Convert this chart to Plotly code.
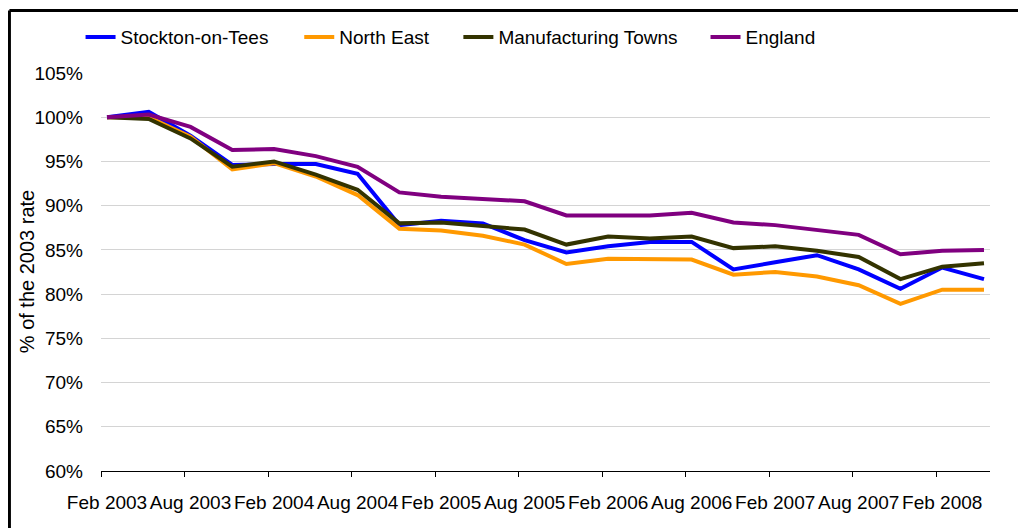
import plotly.graph_objects as go

# Quarterly points, Feb 2003 .. May 2008 (index 0..21)
quarters = list(range(22))
tick_positions = [0, 2, 4, 6, 8, 10, 12, 14, 16, 18, 20]
tick_labels = ['Feb 2003', 'Aug 2003', 'Feb 2004', 'Aug 2004', 'Feb 2005', 'Aug 2005',
               'Feb 2006', 'Aug 2006', 'Feb 2007', 'Aug 2007', 'Feb 2008']

stockton = [100.0, 100.6, 97.9, 94.6, 94.7, 94.7, 93.6, 87.8, 88.3, 88.0, 86.1,
            84.7, 85.4, 85.9, 85.9, 82.8, 83.6, 84.4, 82.8, 80.6, 83.0, 81.7]
north_east = [100.0, 100.0, 97.8, 94.1, 94.8, 93.3, 91.2, 87.4, 87.2, 86.6, 85.6,
              83.4, 84.0, 84.0, 83.9, 82.2, 82.5, 82.0, 81.0, 78.9, 80.5, 80.5]
manufacturing = [100.0, 99.8, 97.6, 94.4, 95.0, 93.5, 91.8, 88.0, 88.1, 87.7, 87.3,
                 85.6, 86.5, 86.3, 86.5, 85.2, 85.4, 84.9, 84.2, 81.7, 83.1, 83.5]
england = [100.0, 100.3, 98.9, 96.3, 96.4, 95.6, 94.4, 91.5, 91.0, 90.8, 90.5,
           88.9, 88.9, 88.9, 89.2, 88.1, 87.8, 87.3, 86.7, 84.5, 84.9, 85.0]

# name, values, colour, legend id, legend x position (paper)
SERIES = [
    ('Stockton-on-Tees', stockton, '#0000FF', 'legend', -0.023),
    ('North East', north_east, '#FF9900', 'legend2', 0.223),
    ('Manufacturing Towns', manufacturing, '#333300', 'legend3', 0.402),
    ('England', england, '#800080', 'legend4', 0.680),
]

FONT = 'Liberation Sans, Arial, sans-serif'
FONT_SIZE = 19

fig = go.Figure()
legends = {}
for name, values, color, legend_id, lx in SERIES:
    fig.add_trace(go.Scatter(
        x=quarters,
        y=values,
        mode='lines',
        name=name,
        legend=legend_id,
        line=dict(color=color, width=4),
    ))
    legends[legend_id] = dict(
        orientation='h',
        x=lx, xanchor='left',
        y=1.09, yanchor='middle',
        font=dict(size=FONT_SIZE),
        bgcolor='rgba(0,0,0,0)',
    )

fig.update_layout(
    width=1026,
    height=528,
    margin=dict(l=93, r=44, t=65, b=65, autoexpand=False),
    paper_bgcolor='white',
    plot_bgcolor='white',
    font=dict(family=FONT, size=FONT_SIZE, color='black'),
    showlegend=True,
    # Outer chart frame (clipped on the right and bottom)
    shapes=[
        dict(type='line', xref='paper', yref='paper',
             x0=-0.103, x1=1.1, y0=1.157, y1=1.157,
             line=dict(color='black', width=3)),
        dict(type='line', xref='paper', yref='paper',
             x0=-0.103, x1=-0.103, y0=1.157, y1=-0.2,
             line=dict(color='black', width=3)),
    ],
    annotations=[
        dict(text='% of the 2003 rate', xref='paper', yref='paper',
             x=-0.083, y=0.5, xanchor='center', yanchor='middle',
             textangle=-90, showarrow=False, font=dict(size=20)),
    ],
    **legends,
)

fig.update_xaxes(
    range=[-0.144, 21.144],
    tickvals=tick_positions,
    ticktext=tick_labels,
    ticks='',
    showgrid=False,
    showline=True,
    linecolor='black',
    linewidth=1,
    ticklabelstandoff=14,
    minor=dict(tick0=-0.144, dtick=2, ticks='outside', ticklen=5,
               tickcolor='black', showgrid=False),
    zeroline=False,
)

fig.update_yaxes(
    range=[60, 105],
    dtick=5,
    ticksuffix='%',
    showgrid=True,
    gridcolor='#d4d4d4',
    gridwidth=1,
    showline=False,
    zeroline=False,
    ticks='',
    ticklabelstandoff=17,
)

fig.write_html("out.html")
